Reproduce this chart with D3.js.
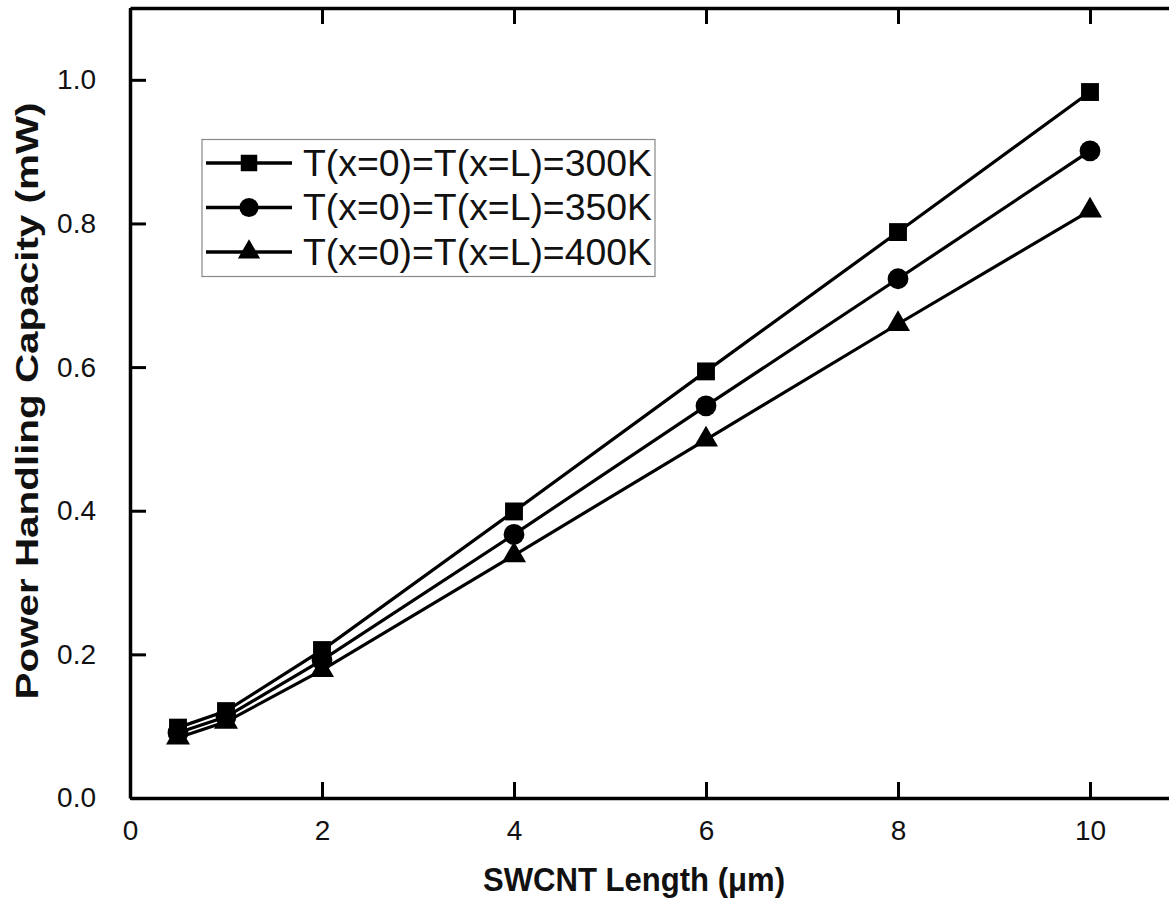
<!DOCTYPE html>
<html>
<head>
<meta charset="utf-8">
<script src="https://cdn.jsdelivr.net/npm/d3@7"></script>
<style>
  html, body { margin: 0; padding: 0; background: #fff; overflow: hidden; }
  svg { display: block; font-family: "Liberation Sans", Arial, sans-serif; }
</style>
</head>
<body>
<svg id="chart" width="1169" height="907"></svg>
<script>
// SWCNT length (µm)
const lengths = [0.5, 1, 2, 4, 6, 8, 10];
// Power handling capacity (mW) for each end temperature
const p300 = [0.098, 0.121, 0.206, 0.399, 0.594, 0.788, 0.983];
const p350 = [0.091, 0.113, 0.192, 0.367, 0.546, 0.723, 0.901];
const p400 = [0.084, 0.106, 0.178, 0.338, 0.499, 0.660, 0.818];
const seriesNames = ["T(x=0)=T(x=L)=300K", "T(x=0)=T(x=L)=350K", "T(x=0)=T(x=L)=400K"];
const xTicks = [0, 2, 4, 6, 8, 10];
const yTicks = [0.0, 0.2, 0.4, 0.6, 0.8, 1.0];

const series = [
  { name: seriesNames[0], values: p300, symbol: d3.symbolSquare, size: 320 },
  { name: seriesNames[1], values: p350, symbol: d3.symbolCircle, size: 340 },
  { name: seriesNames[2], values: p400, symbol: d3.symbolTriangle, size: 250 }
];

const svg = d3.select("#chart");
const plotLeft = 130, plotTop = 8, plotRight = 1186, plotBottom = 798;

const x = d3.scaleLinear().domain([0, 11]).range([plotLeft, plotRight]);
const y = d3.scaleLinear().domain([0, 1.1]).range([plotBottom, plotTop]);

const tickLen = 16;
const axisFont = "28px";

// frame axes with inward ticks
const gBottom = svg.append("g").attr("transform", `translate(0,${plotBottom})`)
  .call(d3.axisBottom(x).tickValues(xTicks).tickSizeInner(-tickLen).tickSizeOuter(0).tickPadding(22)
    .tickFormat(d3.format("d")));
const gTop = svg.append("g").attr("transform", `translate(0,${plotTop})`)
  .call(d3.axisTop(x).tickValues(xTicks).tickSizeInner(-tickLen).tickSizeOuter(0).tickFormat(""));
const gLeft = svg.append("g").attr("transform", `translate(${plotLeft},0)`)
  .call(d3.axisLeft(y).tickValues(yTicks).tickSizeInner(-tickLen).tickSizeOuter(0).tickPadding(34)
    .tickFormat(d3.format(".1f")));
const gRight = svg.append("g").attr("transform", `translate(${plotRight},0)`)
  .call(d3.axisRight(y).tickValues(yTicks).tickSizeInner(-tickLen).tickSizeOuter(0).tickFormat(""));

[gBottom, gTop, gLeft, gRight].forEach(g => {
  g.select(".domain").attr("stroke", "#000").attr("stroke-width", 3.5);
  g.selectAll(".tick line").attr("stroke", "#000").attr("stroke-width", 3);
  g.selectAll(".tick text").attr("fill", "#111").style("font-size", axisFont)
    .style("font-family", "'Liberation Sans', Arial, sans-serif");
});
gBottom.selectAll(".tick text").attr("dy", "0.71em");

// series lines and markers
const line = d3.line().x((d, i) => x(lengths[i])).y(d => y(d));
series.forEach(s => {
  svg.append("path").datum(s.values)
    .attr("d", line).attr("fill", "none").attr("stroke", "#000").attr("stroke-width", 3.2);
  svg.append("g").selectAll("path").data(s.values).join("path")
    .attr("transform", (d, i) => `translate(${x(lengths[i])},${y(d)})`)
    .attr("d", d3.symbol().type(s.symbol).size(s.size)).attr("fill", "#000");
});

// legend
const legend = svg.append("g");
legend.append("rect").attr("x", 202).attr("y", 139.5).attr("width", 453).attr("height", 137)
  .attr("fill", "#fff").attr("stroke", "#888").attr("stroke-width", 1.2);
const rowY = [163, 207.5, 252];
series.forEach((s, i) => {
  legend.append("line").attr("x1", 206).attr("x2", 292).attr("y1", rowY[i]).attr("y2", rowY[i])
    .attr("stroke", "#000").attr("stroke-width", 3.5);
  legend.append("path").attr("transform", `translate(249,${rowY[i]})`)
    .attr("d", d3.symbol().type(s.symbol).size(s.size * 0.85)).attr("fill", "#000");
  legend.append("text").attr("x", 303).attr("y", rowY[i]).attr("dy", "0.36em")
    .style("font-size", "36px").attr("textLength", 349).attr("lengthAdjust", "spacingAndGlyphs")
    .attr("fill", "#111").text(s.name);
});

// axis titles
svg.append("text").attr("x", 634).attr("y", 891)
  .attr("text-anchor", "middle").style("font-size", "34px").style("font-weight", "bold")
  .attr("textLength", 302).attr("lengthAdjust", "spacingAndGlyphs")
  .attr("fill", "#111").text("SWCNT Length (\u03bcm)");
svg.append("text").attr("transform", "translate(38,401) rotate(-90)")
  .attr("text-anchor", "middle").style("font-size", "31px").style("font-weight", "bold")
  .attr("textLength", 597).attr("lengthAdjust", "spacingAndGlyphs")
  .attr("fill", "#111").text("Power Handling Capacity (mW)");
</script>
</body>
</html>
